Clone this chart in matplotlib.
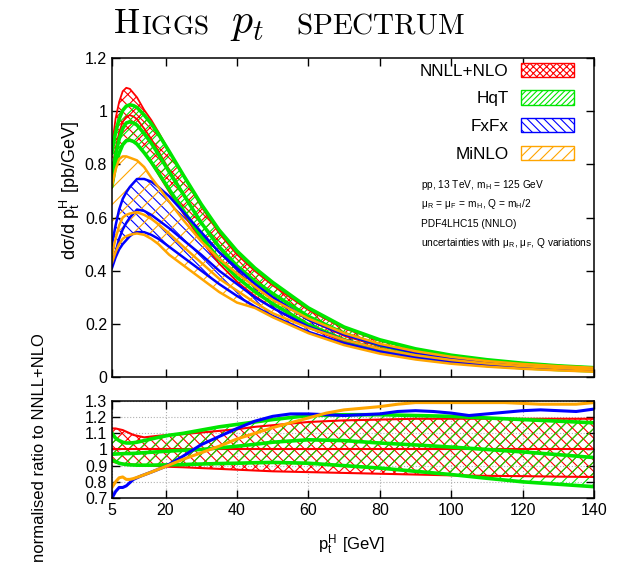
import matplotlib
matplotlib.use('Agg')
import matplotlib.pyplot as plt
from matplotlib.patches import Patch

plt.rcParams['font.family'] = ['Liberation Sans', 'DejaVu Sans']
plt.rcParams['mathtext.fontset'] = 'cm'
plt.rcParams['hatch.linewidth'] = 0.8

RED = '#ff0000'
GREEN = '#00e600'
BLUE = '#0000ff'
ORANGE = '#ffa500'

# ---------------- data: spectrum (upper panel) ----------------
pt = [5, 6, 7, 8, 9, 10, 11, 12, 14, 16, 18, 21, 25, 30, 35, 40, 45, 50,
      60, 70, 80, 90, 100, 110, 120, 130, 140]

nnll_central = [0.77, 0.86, 0.92, 0.96, 0.98, 0.985, 0.98, 0.97, 0.935, 0.895, 0.85, 0.78,
                0.69, 0.58, 0.485, 0.41, 0.35, 0.30, 0.215, 0.155, 0.115, 0.088, 0.068,
                0.054, 0.044, 0.036, 0.030]
nnll_up = [0.87, 0.972, 1.035, 1.075, 1.088, 1.084, 1.068, 1.052, 1.005, 0.967, 0.922, 0.850,
           0.756, 0.641, 0.541, 0.461, 0.399, 0.345, 0.252, 0.183, 0.136, 0.105, 0.081,
           0.064, 0.052, 0.043, 0.036]
nnll_dn = [0.712, 0.791, 0.842, 0.876, 0.892, 0.894, 0.888, 0.878, 0.844, 0.806, 0.762, 0.697,
           0.614, 0.513, 0.427, 0.359, 0.305, 0.26, 0.185, 0.133, 0.098, 0.074, 0.057,
           0.045, 0.037, 0.030, 0.025]

hqt_up = [0.847, 0.920, 0.971, 1.003, 1.019, 1.024, 1.021, 1.014, 0.986, 0.953, 0.914, 0.849,
          0.759, 0.650, 0.553, 0.474, 0.410, 0.356, 0.260, 0.188, 0.140, 0.106, 0.082,
          0.065, 0.052, 0.042, 0.035]
hqt_mid = [0.747, 0.836, 0.895, 0.935, 0.956, 0.960, 0.956, 0.948, 0.916, 0.880, 0.838, 0.772,
           0.687, 0.58, 0.490, 0.418, 0.361, 0.314, 0.228, 0.164, 0.120, 0.090, 0.069,
           0.054, 0.043, 0.035, 0.0285]
hqt_dn = [0.720, 0.796, 0.842, 0.874, 0.889, 0.891, 0.886, 0.876, 0.844, 0.808, 0.768, 0.706,
          0.626, 0.528, 0.443, 0.375, 0.321, 0.276, 0.197, 0.140, 0.102, 0.076, 0.057,
          0.044, 0.035, 0.028, 0.023]

fxfx_up = [0.50, 0.57, 0.63, 0.67, 0.695, 0.715, 0.73, 0.745, 0.745, 0.735, 0.715, 0.68,
           0.62, 0.545, 0.47, 0.41, 0.35, 0.30, 0.215, 0.16, 0.12, 0.091, 0.07,
           0.056, 0.046, 0.038, 0.031]
fxfx_mid = [0.42, 0.47, 0.52, 0.555, 0.58, 0.60, 0.615, 0.63, 0.625, 0.61, 0.59, 0.56,
            0.515, 0.46, 0.40, 0.35, 0.30, 0.26, 0.19, 0.14, 0.104, 0.08, 0.061,
            0.049, 0.040, 0.033, 0.027]
fxfx_dn = [0.41, 0.45, 0.48, 0.50, 0.515, 0.53, 0.54, 0.545, 0.545, 0.535, 0.52, 0.49,
           0.45, 0.40, 0.35, 0.305, 0.265, 0.23, 0.17, 0.127, 0.095, 0.072, 0.055,
           0.044, 0.036, 0.030, 0.025]

minlo_up = [0.72, 0.78, 0.82, 0.83, 0.83, 0.825, 0.82, 0.815, 0.79, 0.75, 0.715, 0.66,
            0.59, 0.51, 0.445, 0.39, 0.34, 0.29, 0.22, 0.165, 0.125, 0.097, 0.076,
            0.06, 0.049, 0.041, 0.035]
minlo_mid = [0.46, 0.52, 0.57, 0.60, 0.61, 0.615, 0.618, 0.62, 0.61, 0.595, 0.575, 0.54,
             0.49, 0.43, 0.37, 0.325, 0.28, 0.24, 0.185, 0.14, 0.106, 0.082, 0.064,
             0.051, 0.041, 0.034, 0.028]
minlo_dn = [0.43, 0.47, 0.50, 0.52, 0.53, 0.535, 0.538, 0.54, 0.535, 0.52, 0.50, 0.46,
            0.42, 0.37, 0.32, 0.28, 0.26, 0.225, 0.165, 0.12, 0.088, 0.066, 0.05,
            0.039, 0.031, 0.025, 0.020]

# ---------------- data: ratio (lower panel) ----------------
r_nnll_up = [1.13, 1.13, 1.125, 1.12, 1.11, 1.10, 1.09, 1.085, 1.075, 1.08, 1.085, 1.09,
             1.095, 1.105, 1.115, 1.125, 1.14, 1.15, 1.17, 1.18, 1.185, 1.19, 1.19,
             1.19, 1.19, 1.19, 1.19]
r_nnll_mid = [1.0] * 27
r_nnll_dn = [0.925, 0.92, 0.915, 0.912, 0.91, 0.908, 0.906, 0.905, 0.903, 0.90, 0.897, 0.893,
             0.89, 0.885, 0.88, 0.875, 0.87, 0.865, 0.86, 0.855, 0.85, 0.845, 0.84,
             0.837, 0.835, 0.832, 0.83]
r_hqt_up = [1.10, 1.07, 1.055, 1.045, 1.04, 1.04, 1.042, 1.045, 1.055, 1.065, 1.075, 1.088,
            1.10, 1.12, 1.14, 1.155, 1.17, 1.185, 1.21, 1.215, 1.215, 1.21, 1.205,
            1.195, 1.185, 1.175, 1.165]
r_hqt_mid = [0.97, 0.972, 0.973, 0.974, 0.975, 0.975, 0.976, 0.977, 0.98, 0.983, 0.986, 0.99,
             0.995, 1.0, 1.01, 1.02, 1.032, 1.045, 1.06, 1.055, 1.04, 1.028, 1.015,
             1.0, 0.985, 0.968, 0.95]
r_hqt_dn = [0.935, 0.925, 0.915, 0.91, 0.907, 0.905, 0.904, 0.903, 0.903, 0.903, 0.904, 0.905,
            0.907, 0.91, 0.913, 0.915, 0.918, 0.92, 0.915, 0.90, 0.885, 0.865, 0.845,
            0.822, 0.80, 0.785, 0.77]

pt_r = [5, 6, 7, 8, 9, 10, 11, 13, 16, 20, 25, 30, 35, 40, 45, 50, 55, 60, 65, 70,
        75, 80, 85, 90, 95, 100, 105, 110, 115, 120, 125, 130, 135, 140]
r_fxfx = [0.70, 0.74, 0.765, 0.765, 0.775, 0.795, 0.815, 0.835, 0.86, 0.895, 0.96, 1.03,
          1.08, 1.13, 1.175, 1.205, 1.22, 1.22, 1.215, 1.21, 1.215, 1.22, 1.235, 1.24,
          1.235, 1.225, 1.21, 1.22, 1.23, 1.24, 1.245, 1.24, 1.235, 1.25]
r_minlo = [0.765, 0.80, 0.825, 0.83, 0.815, 0.815, 0.82, 0.835, 0.86, 0.895, 0.94, 0.98,
           1.02, 1.065, 1.10, 1.135, 1.165, 1.195, 1.225, 1.245, 1.255, 1.265, 1.28, 1.29,
           1.29, 1.29, 1.29, 1.29, 1.29, 1.285, 1.28, 1.28, 1.28, 1.29]

labels = ['NNLL+NLO', 'HqT', 'FxFx', 'MiNLO']
xticks = [5, 20, 40, 60, 80, 100, 120, 140]
yticks_top = [0, 0.2, 0.4, 0.6, 0.8, 1.0, 1.2]
yticklabels_top = ['0', '0.2', '0.4', '0.6', '0.8', '1', '1.2']
yticks_bot = [0.7, 0.8, 0.9, 1.0, 1.1, 1.2, 1.3]
yticklabels_bot = ['0.7', '0.8', '0.9', '1', '1.1', '1.2', '1.3']

# ---------------- figure ----------------
fig = plt.figure(figsize=(6.31, 5.69), dpi=100)
ax1 = fig.add_axes([0.1775, 0.3374, 0.7639, 0.5606])
ax2 = fig.add_axes([0.1775, 0.1248, 0.7639, 0.1705])

# upper panel bands
ax1.fill_between(pt, nnll_dn, nnll_up, facecolor='none', edgecolor=RED, hatch='xxx', linewidth=0)
ax1.fill_between(pt, hqt_dn, hqt_up, facecolor='none', edgecolor=GREEN, hatch='////', linewidth=0)
ax1.fill_between(pt, fxfx_dn, fxfx_up, facecolor='none', edgecolor=BLUE, hatch='\\\\\\', linewidth=0)
ax1.fill_between(pt, minlo_dn, minlo_up, facecolor='none', edgecolor=ORANGE, hatch='//', linewidth=0)

for y in (nnll_up, nnll_central, nnll_dn):
    ax1.plot(pt, y, color=RED, lw=1.3)
for y in (hqt_up, hqt_mid, hqt_dn):
    ax1.plot(pt, y, color=GREEN, lw=2.6)
for y in (fxfx_up, fxfx_mid, fxfx_dn):
    ax1.plot(pt, y, color=BLUE, lw=1.8)
for y in (minlo_up, minlo_mid, minlo_dn):
    ax1.plot(pt, y, color=ORANGE, lw=1.8)

ax1.set_xlim(5, 140)
ax1.set_ylim(0, 1.2)
ax1.set_xticks(xticks)
ax1.set_yticks(yticks_top)
ax1.set_yticklabels(yticklabels_top)
ax1.tick_params(direction='in', top=True, right=True, length=6, width=1,
                labelsize=11.5, labelbottom=False)

handles = [Patch(facecolor='white', edgecolor=RED, hatch='xxxxx', lw=1),
           Patch(facecolor='white', edgecolor=GREEN, hatch='//////', lw=1),
           Patch(facecolor='white', edgecolor=BLUE, hatch='\\\\\\\\', lw=1),
           Patch(facecolor='white', edgecolor=ORANGE, hatch='///', lw=1)]
ax1.legend(handles, labels, loc='upper right', bbox_to_anchor=(0.958, 0.985),
           frameon=False, markerfirst=False, handlelength=3.1, handleheight=0.9,
           labelspacing=0.68, handletextpad=0.7, fontsize=12.3, borderaxespad=0, borderpad=0)

info = ['pp, 13 TeV, m$_\\mathregular{H}$ = 125 GeV',
        'μ$_\\mathregular{R}$ = μ$_\\mathregular{F}$ = m$_\\mathregular{H}$, Q = m$_\\mathregular{H}$/2',
        'PDF4LHC15 (NNLO)',
        'uncertainties with μ$_\\mathregular{R}$, μ$_\\mathregular{F}$, Q variations']
for i, s in enumerate(info):
    fig.text(421 / 631, 1 - (185 + 19.3 * i) / 569, s, fontsize=7.3, ha='left', va='center')

# lower panel
ax2.fill_between(pt, r_nnll_dn, r_nnll_up, facecolor='none', edgecolor=RED, hatch='xxx', linewidth=0)
ax2.fill_between(pt, r_hqt_dn, r_hqt_up, facecolor='none', edgecolor=GREEN, hatch='///', linewidth=0)
for y in (r_nnll_up, r_nnll_mid, r_nnll_dn):
    ax2.plot(pt, y, color=RED, lw=1.5)
for y in (r_hqt_up, r_hqt_mid, r_hqt_dn):
    ax2.plot(pt, y, color=GREEN, lw=2.6)
ax2.plot(pt_r, r_fxfx, color=BLUE, lw=2.2)
ax2.plot(pt_r, r_minlo, color=ORANGE, lw=2.2)

ax2.set_xlim(5, 140)
ax2.set_ylim(0.7, 1.3)
ax2.set_xticks(xticks)
ax2.set_yticks(yticks_bot)
ax2.set_yticklabels(yticklabels_bot)
ax2.grid(True, color='#b0b0b0', linestyle=':', linewidth=0.8)
ax2.set_axisbelow(True)
ax2.tick_params(direction='in', top=True, right=True, length=6, width=1, labelsize=11.5)

for ax in (ax1, ax2):
    for sp in ax.spines.values():
        sp.set_linewidth(1.1)

# labels
fig.text(70 / 631, 1 - 191 / 569, 'dσ/d p$_\\mathregular{t}^\\mathregular{H}$ [pb/GeV]',
         rotation=90, ha='center', va='center', fontsize=13)
fig.text(40 / 631, 1 - 448 / 569, 'normalised ratio to NNLL+NLO',
         rotation=90, ha='center', va='center', fontsize=12)
fig.text(352 / 631, 1 - 545 / 569, 'p$_\\mathregular{t}^\\mathregular{H}$ [GeV]',
         ha='center', va='center', fontsize=12)

# title (small caps emulation)
base = 1 - 33 / 569
fig.text(113 / 631, base, r'$\mathrm{H}$', fontsize=25, ha='left', va='baseline')
fig.text(141 / 631, base, r'$\mathrm{IGGS}$', fontsize=19.5, ha='left', va='baseline')
fig.text(230 / 631, base, r'$p_t$', fontsize=30, ha='left', va='baseline')
fig.text(296 / 631, base, r'$\mathrm{SPECTRUM}$', fontsize=21, ha='left', va='baseline')

fig.savefig('out.png', dpi=100)
